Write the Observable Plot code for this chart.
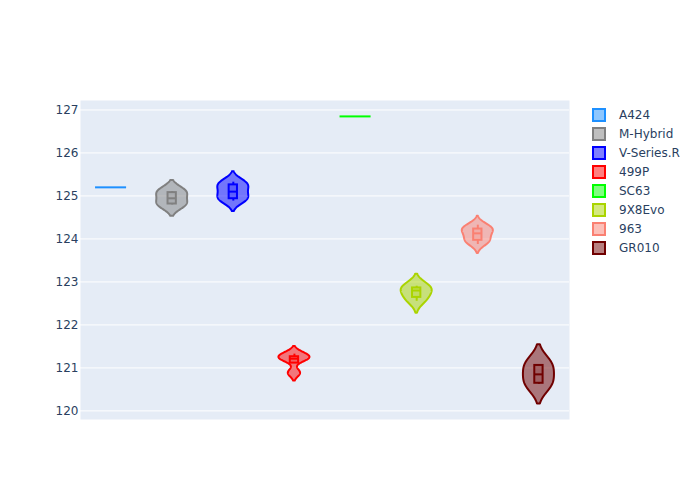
<!DOCTYPE html>
<html><head><meta charset="utf-8">
<script src="https://cdn.jsdelivr.net/npm/d3@7"></script>
<script src="https://cdn.jsdelivr.net/npm/@observablehq/plot@0.6"></script>
<style>
body{margin:0;background:#fff;font-family:"DejaVu Sans",sans-serif;}
#wrap{position:relative;width:700px;height:500px;}
.item{position:absolute;left:592px;height:19px;display:flex;align-items:center;font-size:12px;color:#2a3f5f;font-family:"DejaVu Sans",sans-serif;white-space:nowrap;}
.sw{width:10px;height:10px;border:2px solid;margin-right:13px;box-sizing:content-box;}
</style></head><body><div id="wrap"></div>
<script>
// categories (one violin each)
const categories = ["A424", "M-Hybrid", "V-Series.R", "499P", "SC63", "9X8Evo", "963", "GR010"];
const colors = ["#1e90ff", "#808080", "#0000ff", "#ff0000", "#00ff00", "#aad400", "#fa8072", "#700000"];

// observed values per series
const valuesA424 = [125.2];
const valuesMHybrid = [124.79, 124.82, 125.07, 125.10];
const valuesVSeriesR = [124.88, 124.92, 124.94, 125.06, 125.14, 125.25, 125.28, 125.32];
const values499P = [120.875, 121.19, 121.24, 121.32];
const valuesSC63 = [126.85];
const values9X8Evo = [122.55, 122.64, 122.80, 122.86, 122.90];
const values963 = [123.87, 123.93, 123.95, 124.02, 124.10, 124.16, 124.20, 124.24, 124.27, 124.32];
const valuesGR010 = [120.62, 120.65, 121.05, 121.08];

// kernel bandwidths per series
const bandwidths = [0, 0.13, 0.122, 0.09, 0, 0.14, 0.105, 0.23];

// y tick labels
const yTicks = [120, 121, 122, 123, 124, 125, 126, 127];

const seriesValues = [valuesA424, valuesMHybrid, valuesVSeriesR, values499P, valuesSC63, values9X8Evo, values963, valuesGR010];

const HALF = 0.254;   // violin half width (x units)
const BOXH = 0.068;   // inner box half width

const marks = [
  Plot.frame({fill: "#e5ecf6", stroke: "none"}),
  Plot.gridY(yTicks, {stroke: "white", strokeOpacity: 1, strokeWidth: 1}),
  Plot.axisY(yTicks, {tickSize: 0, tickPadding: 2, label: null, fontSize: 12})
];

seriesValues.forEach((vals, i) => {
  const color = colors[i];
  const sorted = vals.slice().sort(d3.ascending);
  const n = sorted.length;
  if (n < 2) {
    marks.push(Plot.ruleY([{v: sorted[0], x1: i - HALF, x2: i + HALF}], {y: "v", x1: "x1", x2: "x2", stroke: color, strokeWidth: 2}));
    return;
  }
  const bw = bandwidths[i];
  const lo = sorted[0] - 2 * bw, hi = sorted[n - 1] + 2 * bw;
  const steps = 160;
  const pts = [];
  for (let k = 0; k <= steps; k++) {
    const y = lo + (hi - lo) * k / steps;
    let d = 0;
    for (const v of sorted) d += Math.exp(-0.5 * ((y - v) / bw) ** 2);
    pts.push({y, d});
  }
  const dmax = d3.max(pts, p => p.d);
  pts.forEach(p => { p.x1 = i - HALF * p.d / dmax; p.x2 = i + HALF * p.d / dmax; });
  marks.push(Plot.areaX(pts, {y: "y", x1: "x1", x2: "x2", fill: color, fillOpacity: 0.5, stroke: color, strokeWidth: 2, strokeLinejoin: "round"}));

  const q1 = d3.quantileSorted(sorted, 0.25), med = d3.quantileSorted(sorted, 0.5), q3 = d3.quantileSorted(sorted, 0.75);
  const iqr = q3 - q1;
  const lf = Math.min(q1, sorted.find(v => v >= q1 - 1.5 * iqr));
  const uf = Math.max(q3, sorted.filter(v => v <= q3 + 1.5 * iqr).pop());
  const box = {q1, q3, med, x1: i - BOXH, x2: i + BOXH, x: i, lf, uf};
  marks.push(Plot.ruleX([box], {x: "x", y1: "lf", y2: "q1", stroke: color, strokeWidth: 2}));
  marks.push(Plot.ruleX([box], {x: "x", y1: "q3", y2: "uf", stroke: color, strokeWidth: 2}));
  marks.push(Plot.rect([box], {x1: "x1", x2: "x2", y1: "q1", y2: "q3", fill: color, fillOpacity: 0.2, stroke: color, strokeWidth: 2}));
  marks.push(Plot.ruleY([box], {y: "med", x1: "x1", x2: "x2", stroke: color, strokeWidth: 2}));
});

const chart = Plot.plot({
  width: 700, height: 500,
  marginLeft: 80, marginRight: 131, marginTop: 100, marginBottom: 81,
  x: {domain: [-0.5, 7.5], axis: null},
  y: {domain: [119.80, 127.22]},
  style: {fontFamily: "'DejaVu Sans', sans-serif", fontSize: "12px", color: "#2a3f5f", background: "white"},
  marks
});
const wrap = document.getElementById("wrap");
wrap.appendChild(chart);

categories.forEach((name, k) => {
  const it = document.createElement("div");
  it.className = "item";
  it.style.top = (105 + k * 19.05) + "px";
  const sw = document.createElement("div");
  sw.className = "sw";
  sw.style.borderColor = colors[k];
  const c = d3.color(colors[k]); c.opacity = 0.5;
  sw.style.background = c.formatRgb();
  const t = document.createElement("span");
  t.textContent = name;
  it.appendChild(sw); it.appendChild(t);
  wrap.appendChild(it);
});
</script></body></html>
